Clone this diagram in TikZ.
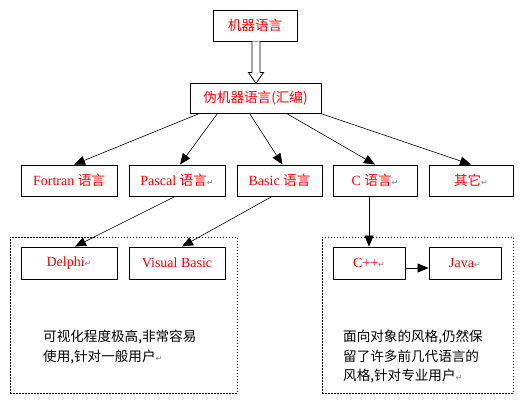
\documentclass[tikz,border=0pt]{standalone}
\usepackage{fontspec}
\setmainfont{Liberation Serif}
\newfontfamily\cjk[Scale=0.97]{Noto Sans CJK SC}
\newfontfamily\symfont{DejaVu Sans}
\usetikzlibrary{arrows.meta,calc}
\newcommand\pmark{{\symfont\color{gray}\fontsize{8}{8}\selectfont ↵}}
\tikzset{
  lbox/.style={draw, line width=0.9pt, minimum height=31pt, inner sep=0pt, text=red,
    font=\fontsize{14}{16}\selectfont},
  arr/.style={-{Triangle[length=11pt,width=9pt]}, line width=0.6pt},
  group/.style={draw, dash pattern=on 1.5pt off 1.5pt, line width=0.8pt},
  desc/.style={anchor=north west, inner sep=0pt, align=left,
    font=\cjk\fontsize{14}{19.5}\selectfont},
}
\begin{document}
\begin{tikzpicture}[x=1pt,y=-1pt]
\fill[white] (0,0) rectangle (524,400);
\useasboundingbox (0,0) rectangle (524,400);
% dashed groups
\node[group, minimum width=227pt, minimum height=156pt, inner sep=0pt] (gleft) at (123.5,315) {};
\node[group, minimum width=191pt, minimum height=156pt, inner sep=0pt] (gright) at (417.5,315) {};
% boxes
\node[lbox, minimum width=84pt] (top) at (255,25.5) {\cjk 机器语言};
\node[lbox, minimum width=131pt, minimum height=30pt] (pseudo) at (255.5,98) {\cjk 伪机器语言(汇编)};
\node[lbox, minimum width=96pt] (fortran) at (69,180.5) {Fortran {\cjk 语言}};
\node[lbox, minimum width=96pt] (pascal) at (177,180.5) {Pascal {\cjk 语言}\pmark};
\node[lbox, minimum width=85pt] (basic) at (279.5,180.5) {Basic {\cjk 语言}};
\node[lbox, minimum width=84pt] (c) at (375,180.5) {C {\cjk 语言}\pmark};
\node[lbox, minimum width=84pt] (other) at (471,180.5) {{\cjk 其它}\pmark};
\node[lbox, minimum width=96pt, minimum height=32pt] (delphi) at (69,263) {Delphi\pmark};
\node[lbox, minimum width=96pt, minimum height=32pt] (vb) at (177,263) {Visual Basic};
\node[lbox, minimum width=72pt, minimum height=32pt] (cpp) at (369,263) {C++\pmark};
\node[lbox, minimum width=72pt, minimum height=32pt] (java) at (465,263) {Java\pmark};
% descriptions
\node[desc] (tleft) at (43,330) {可视化程度极高,非常容易\\使用,针对一般用户\pmark};
\node[desc] (tright) at (343,330) {面向对象的风格,仍然保\\留了许多前几代语言的\\风格,针对专业用户\pmark};
% hollow double arrow
\draw[line width=0.8pt, fill=white]
  ($(top.south)+(-3,0)$) -- ($(top.south)+(-3,31)$) -- ($(top.south)+(-6.5,31)$)
  -- ($(top.south)+(1,42)$) -- ($(top.south)+(8.5,31)$) -- ($(top.south)+(5,31)$)
  -- ($(top.south)+(5,0)$);
% arrows
\draw[arr] ($(pseudo.south west)+(10,0)$) -- ($(fortran.north)+(5,0)$);
\draw[arr] ($(pseudo.south west)+(28,0)$) -- ($(pascal.north)+(3,0)$);
\draw[arr] ($(pseudo.south west)+(60,0)$) -- ($(basic.north)+(3,0)$);
\draw[arr] ($(pseudo.south west)+(97,0)$) -- (c.north);
\draw[arr] ($(pseudo.south east)+(-1,0)$) -- (other.north);
\draw[arr] ($(pascal.south)+(-2,0)$) -- ($(delphi.north)+(6,0)$);
\draw[arr] ($(basic.south)+(-7.5,0)$) -- ($(vb.north)+(5,0)$);
\draw[arr] ($(c.south)+(-6,0)$) -- (cpp.north);
\draw[arr] ($(cpp.east)+(0,5)$) -- ($(java.west)+(0,5)$);
\end{tikzpicture}
\end{document}
